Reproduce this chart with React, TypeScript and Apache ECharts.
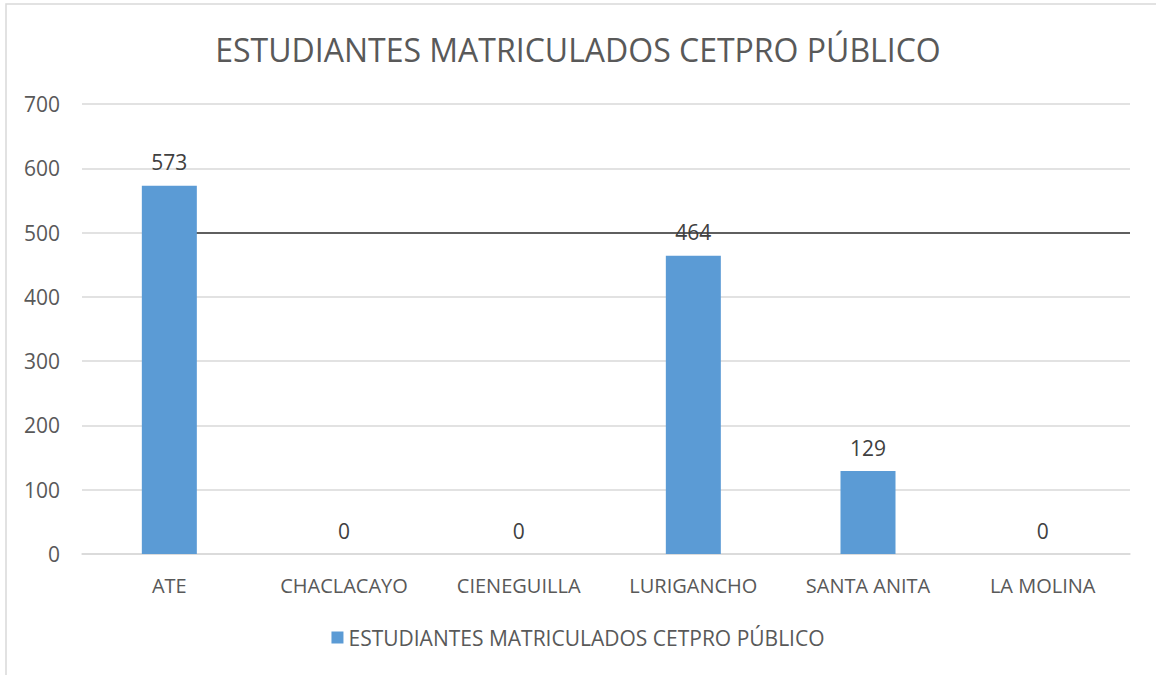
import React, { useEffect, useRef } from "react";
import * as echarts from "echarts";

const categories = ["ATE", "CHACLACAYO", "CIENEGUILLA", "LURIGANCHO", "SANTA ANITA", "LA MOLINA"];
const values = [573, 0, 0, 464, 129, 0];
const seriesName = "ESTUDIANTES MATRICULADOS CETPRO PÚBLICO";
const titleText = "ESTUDIANTES MATRICULADOS CETPRO PÚBLICO";
const referenceValue = 500;

const W = 1156;
const H = 675;
const gridLeft = 82;
const gridRight = 26;
const FONT = "Open Sans";

export default function App() {
  const ref = useRef<HTMLDivElement>(null);
  useEffect(() => {
    if (!ref.current) return;
    const chart = echarts.init(ref.current, undefined, { renderer: "svg" });
    chart.setOption({
      animation: false,
      backgroundColor: "#ffffff",
      textStyle: { fontFamily: FONT },
      title: {
        text: titleText,
        left: "center",
        top: 28,
        textStyle: { fontFamily: FONT, fontSize: 32, fontWeight: "normal", color: "#595959" },
      },
      graphic: [
        {
          type: "rect",
          shape: { x: 6, y: 4, width: 1300, height: 800 },
          style: { fill: "none", stroke: "#d9d9d9", lineWidth: 1.5 },
          silent: true,
        },
      ],
      legend: {
        bottom: 22,
        left: "center",
        itemWidth: 12,
        itemHeight: 12,
        itemGap: 6,
        icon: "rect",
        textStyle: { fontFamily: FONT, fontSize: 21, color: "#595959" },
        data: [seriesName],
      },
      grid: { left: gridLeft, right: gridRight, top: 104, bottom: H - 554, containLabel: false },
      xAxis: {
        type: "category",
        data: categories,
        axisTick: { show: false },
        axisLine: { show: true, lineStyle: { color: "#d9d9d9", width: 1.5 } },
        axisLabel: {
          interval: 0,
          hideOverlap: false,
          fontFamily: FONT,
          fontSize: 20,
          color: "#595959",
          margin: 21,
        },
      },
      yAxis: {
        type: "value",
        min: 0,
        max: 700,
        interval: 100,
        axisLine: { show: false },
        axisTick: { show: false },
        axisLabel: { fontFamily: FONT, fontSize: 21, color: "#595959", margin: 22 },
        splitLine: { lineStyle: { color: "#d9d9d9", width: 1.5 } },
      },
      series: [
        {
          name: seriesName,
          type: "bar",
          data: values,
          barWidth: 55,
          z: 3,
          itemStyle: { color: "#5b9bd5" },
          label: {
            show: true,
            position: "top",
            distance: 13,
            fontFamily: FONT,
            fontSize: 21,
            color: "#404040",
          },
          markLine: {
            z: 1,
            silent: true,
            symbol: ["none", "none"],
            label: { show: false },
            lineStyle: { color: "#333333", width: 1.5, type: "solid" },
            data: [
              [
                { coord: [categories[0], referenceValue] },
                { x: W - gridRight, yAxis: referenceValue },
              ],
            ],
          },
        },
      ],
    });
    return () => chart.dispose();
  }, []);
  return <div ref={ref} style={{ position: "fixed", left: 0, top: 0, width: W, height: H }} />;
}
